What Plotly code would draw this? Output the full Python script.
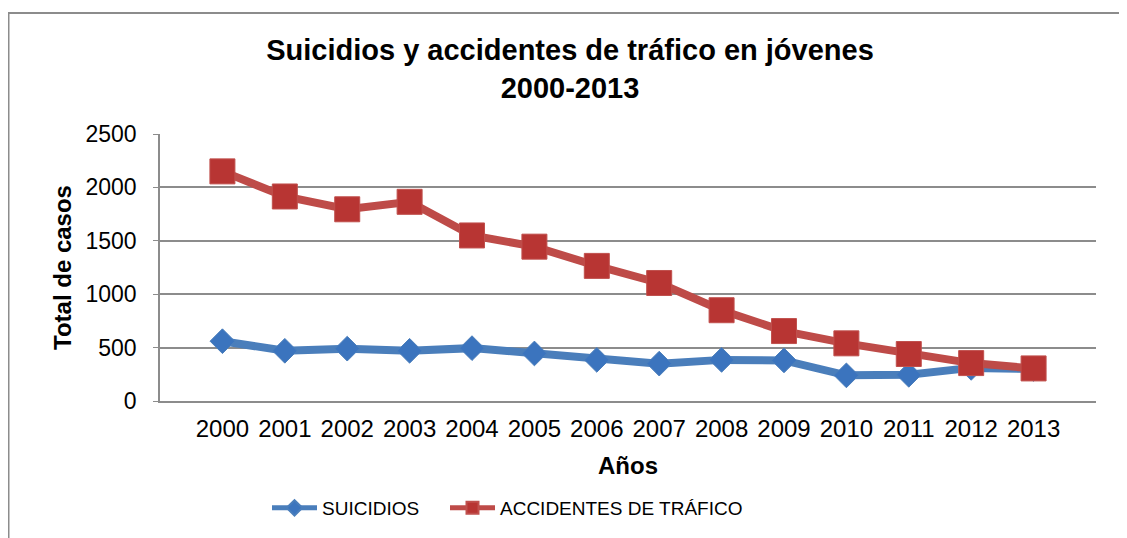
import plotly.graph_objects as go

years = ["2000", "2001", "2002", "2003", "2004", "2005", "2006",
         "2007", "2008", "2009", "2010", "2011", "2012", "2013"]
suicidios = [560, 470, 490, 470, 495, 445, 385, 350, 385, 380, 240, 245, 310, 300]
accidentes = [2150, 1915, 1795, 1865, 1550, 1445, 1265, 1105, 850, 655, 540, 440, 355, 305]
y_ticks = [0, 500, 1000, 1500, 2000, 2500]

FONT = "Arial, 'Liberation Sans', sans-serif"
OFF = 8  # page body margin
W, H = 1127 - OFF, 538 - OFF
L, R, T, B = 152, 31, 126, 137
pw, ph = W - L - R, H - T - B
bottom = H - B

fig = go.Figure()
fig.add_trace(go.Scatter(
    x=years, y=suicidios, name="SUICIDIOS", mode="lines+markers",
    line=dict(color="#4A7EBB", width=8),
    marker=dict(symbol="diamond", size=19, color="#3B74BE",
                line=dict(color="#4A7EBB", width=1)),
    legend="legend",
))
fig.add_trace(go.Scatter(
    x=years, y=accidentes, name="ACCIDENTES DE TRÁFICO", mode="lines+markers",
    line=dict(color="#BE4B48", width=8),
    marker=dict(symbol="square", size=25, color="#B83533",
                line=dict(color="#C0504D", width=1)),
    legend="legend2",
))

# outer chart frame
fig.add_shape(type="rect", xref="paper", yref="paper",
              x0=(0.5 - L) / pw, x1=1.2, y0=-1.0, y1=(bottom - 5) / ph,
              line=dict(color="#8C8C8C", width=2), layer="below")

leg_common = dict(orientation="h", xanchor="left", yanchor="middle",
                  y=(bottom - 500) / ph, font=dict(size=19, family=FONT),
                  itemsizing="constant", itemwidth=45, bgcolor="rgba(0,0,0,0)")

fig.update_layout(
    width=W, height=H,
    margin=dict(l=L, r=R, t=T, b=B, autoexpand=False),
    paper_bgcolor="white", plot_bgcolor="white",
    font=dict(family=FONT, color="black"),
    title=dict(text="<b>Suicidios y accidentes de tráfico en jóvenes<br>2000-2013</b>",
               x=562 / W, xref="container", xanchor="center",
               y=1 - 52 / H, yref="container", yanchor="middle",
               font=dict(size=29, family=FONT, color="black")),
    showlegend=True,
    legend=dict(x=(259 - L) / pw, **leg_common),
    legend2=dict(x=(437 - L) / pw, **leg_common),
    xaxis=dict(type="category", showgrid=False, showline=True, automargin=False,
               linecolor="#8C8C8C", linewidth=1.5, ticks="",
               tickfont=dict(size=24, family=FONT), ticklabelstandoff=5,
               title=dict(text="<b>Años</b>", font=dict(size=24, family=FONT), standoff=17)),
    yaxis=dict(range=[0, 2500], tickvals=y_ticks, showgrid=True, automargin=False,
               gridcolor="#8C8C8C", gridwidth=1.5, showline=True,
               linecolor="#8C8C8C", linewidth=1.5, ticks="outside", ticklen=5,
               tickcolor="#8C8C8C", tickfont=dict(size=23, family=FONT),
               ticklabelstandoff=12, zeroline=False,
               title=dict(text="<b>Total de casos</b>", font=dict(size=24, family=FONT), standoff=7)),
)

fig.write_html("out.html")
